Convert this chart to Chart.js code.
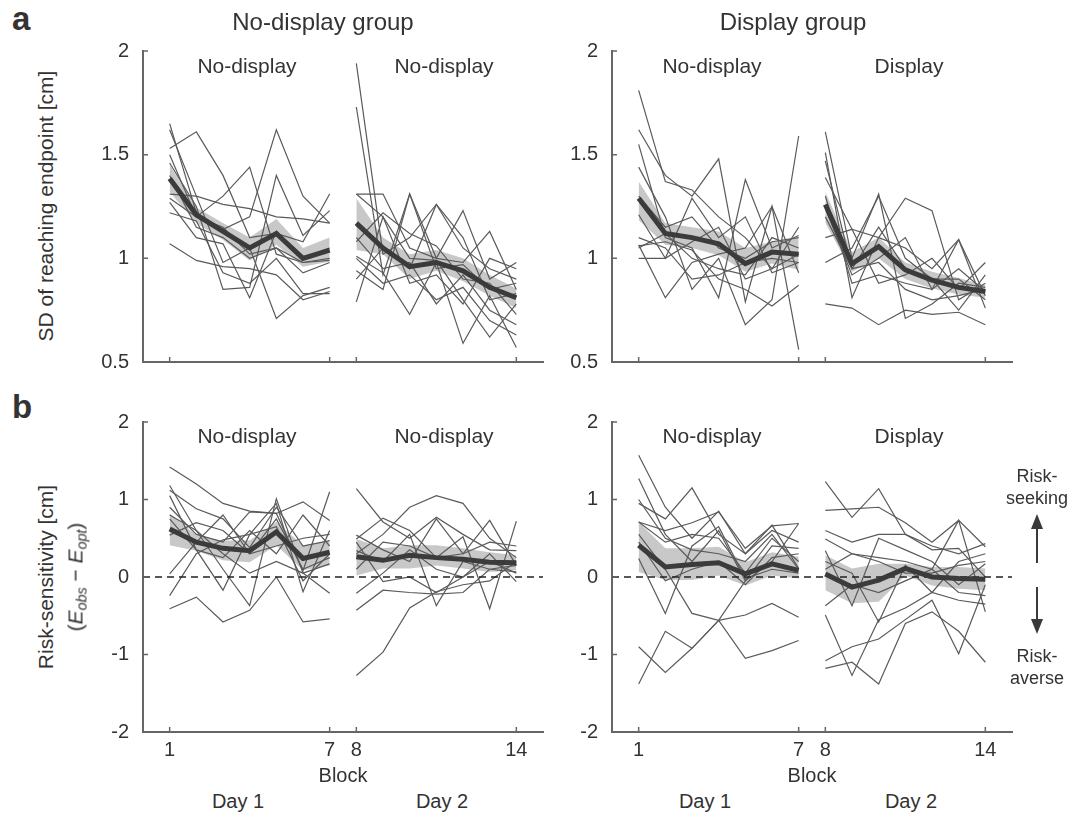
<!DOCTYPE html>
<html>
<head>
<meta charset="utf-8">
<script src="https://cdn.jsdelivr.net/npm/chart.js@4.4.1/dist/chart.umd.min.js"></script>
<style>
  body { margin: 0; background: #fff; }
  #fig { position: relative; width: 1084px; height: 813px; font-family: 'Liberation Sans', Arial, sans-serif; color: #333; overflow: hidden; }
  #fig canvas { position: absolute; }
  .t { position: absolute; transform: translate(-50%, -50%); line-height: 1; white-space: nowrap; }
  .rot { transform: translate(-50%, -50%) rotate(-90deg); }
  .big { font-size: 24px; }
  .ttl { font-size: 21px; }
  .lab { font-size: 21px; }
  .xl { font-size: 20px; }
  .side { font-size: 18px; text-align: center; line-height: 1.2; }
  .pl { position: absolute; font-weight: bold; font-size: 33px; line-height: 33px; color: #333; }
  sub { font-size: 0.68em; vertical-align: -0.28em; line-height: 0; }
</style>
</head>
<body>
<div id="fig">
  <canvas id="sdNoDisp" width="470" height="363" style="left:83px;top:25px"></canvas>
  <canvas id="sdDisp" width="470" height="363" style="left:552px;top:25px"></canvas>
  <canvas id="riskNoDisp" width="470" height="371" style="left:83px;top:396px"></canvas>
  <canvas id="riskDisp" width="470" height="371" style="left:552px;top:396px"></canvas>

  <div class="pl" style="left:12px;top:2px">a</div>
  <div class="pl" style="left:12px;top:390px">b</div>

  <div class="t big" style="left:323px;top:22px">No-display group</div>
  <div class="t big" style="left:793px;top:22px">Display group</div>

  <div class="t ttl" style="left:247px;top:65px">No-display</div>
  <div class="t ttl" style="left:444px;top:65px">No-display</div>
  <div class="t ttl" style="left:712px;top:65px">No-display</div>
  <div class="t ttl" style="left:909px;top:65px">Display</div>
  <div class="t ttl" style="left:247px;top:435px">No-display</div>
  <div class="t ttl" style="left:444px;top:435px">No-display</div>
  <div class="t ttl" style="left:712px;top:435px">No-display</div>
  <div class="t ttl" style="left:909px;top:435px">Display</div>

  <div class="t lab rot" style="left:45px;top:206px">SD of reaching endpoint [cm]</div>
  <div class="t lab rot" style="left:45px;top:577px">Risk-sensitivity [cm]</div>
  <div class="t lab rot" style="left:75px;top:577px">(<i>E</i><sub><i>obs</i></sub> &minus; <i>E</i><sub><i>opt</i></sub>)</div>

  <div class="t xl" style="left:343px;top:775px">Block</div>
  <div class="t xl" style="left:812px;top:775px">Block</div>
  <div class="t xl" style="left:238px;top:801px">Day 1</div>
  <div class="t xl" style="left:442px;top:801px">Day 2</div>
  <div class="t xl" style="left:705px;top:801px">Day 1</div>
  <div class="t xl" style="left:911px;top:801px">Day 2</div>

  <div class="t side" style="left:1037px;top:488px">Risk-<br>seeking</div>
  <div class="t side" style="left:1037px;top:668px">Risk-<br>averse</div>
  <svg style="position:absolute;left:0;top:0" width="1084" height="813">
    <g stroke="#3a3a3a" stroke-width="2" fill="#3a3a3a">
      <line x1="1037" y1="563" x2="1037" y2="527"/>
      <polygon points="1037,514 1031,529 1043,529" stroke="none"/>
      <line x1="1037" y1="587" x2="1037" y2="621"/>
      <polygon points="1037,634 1031,619 1043,619" stroke="none"/>
    </g>
  </svg>
</div>

<script>
// x positions and tick values
const blocksDay1 = [1, 2, 3, 4, 5, 6, 7];
const blocksDay2 = [8, 9, 10, 11, 12, 13, 14];
const xTickBlocks = [1, 7, 8, 14];
const sdTicks = [0.5, 1, 1.5, 2];
const riskTicks = [-2, -1, 0, 1, 2];
const zeroLineX = [0, 15];

// a: SD of reaching endpoint, no-display group
const sdNoDispDay1Mean = [1.385, 1.21, 1.13, 1.05, 1.12, 1.00, 1.04];
const sdNoDispDay1Hi = [1.45, 1.245, 1.17, 1.10, 1.19, 1.05, 1.10];
const sdNoDispDay1Lo = [1.32, 1.17, 1.09, 0.99, 1.065, 0.96, 0.985];
const sdNoDispDay1Subjects = [
  [1.65, 1.22, 1.14, 1.20, 1.62, 1.30, 1.17],
  [1.62, 1.30, 0.98, 1.05, 0.71, 0.82, 0.86],
  [1.53, 1.61, 1.40, 1.10, 1.12, 1.08, 1.31],
  [1.50, 1.20, 1.30, 1.44, 1.02, 0.98, 0.99],
  [1.46, 1.25, 0.85, 0.86, 1.40, 1.11, 1.23],
  [1.31, 1.30, 1.26, 1.24, 1.20, 1.19, 1.17],
  [1.29, 1.20, 1.15, 1.02, 1.05, 0.98, 1.00],
  [1.27, 1.10, 1.07, 0.81, 1.13, 1.00, 1.05],
  [1.22, 1.18, 0.93, 0.88, 1.00, 0.83, 0.83],
  [1.07, 0.99, 0.96, 0.95, 0.92, 0.80, 0.84],
  [1.40, 1.15, 1.10, 1.00, 1.05, 0.93, 0.98]
];
const sdNoDispDay2Mean = [1.17, 1.05, 0.96, 0.98, 0.94, 0.86, 0.81];
const sdNoDispDay2Hi = [1.29, 1.10, 1.02, 1.04, 1.00, 0.92, 0.855];
const sdNoDispDay2Lo = [1.04, 1.02, 0.90, 0.94, 0.89, 0.82, 0.76];
const sdNoDispDay2Subjects = [
  [1.94, 1.02, 1.10, 1.26, 1.05, 0.95, 0.90],
  [1.73, 0.92, 1.31, 1.00, 1.23, 0.90, 0.98],
  [1.31, 1.31, 1.05, 1.00, 0.98, 1.13, 0.85],
  [1.31, 1.20, 1.00, 0.99, 0.80, 0.62, 0.78],
  [1.08, 1.22, 1.12, 1.06, 0.90, 0.88, 0.73],
  [1.01, 0.93, 0.73, 0.98, 0.59, 0.82, 0.57],
  [0.94, 0.85, 1.31, 0.95, 0.97, 0.85, 0.88],
  [0.90, 1.05, 0.95, 1.26, 1.10, 0.80, 0.83],
  [0.79, 1.20, 0.88, 0.92, 0.78, 1.00, 0.95],
  [1.10, 0.95, 0.98, 0.78, 0.92, 0.75, 0.68],
  [1.00, 0.88, 0.92, 0.80, 0.86, 0.70, 0.63]
];

// a: SD of reaching endpoint, display group
const sdDispDay1Mean = [1.29, 1.12, 1.10, 1.07, 0.975, 1.03, 1.02];
const sdDispDay1Hi = [1.37, 1.17, 1.15, 1.13, 1.05, 1.08, 1.10];
const sdDispDay1Lo = [1.185, 1.065, 1.05, 1.015, 0.935, 0.975, 0.945];
const sdDispDay1Subjects = [
  [1.81, 1.37, 1.33, 1.20, 1.10, 0.95, 1.15],
  [1.62, 1.40, 1.30, 1.48, 0.79, 1.25, 0.56],
  [1.55, 1.10, 1.05, 0.81, 1.38, 1.05, 1.11],
  [1.44, 1.20, 0.85, 1.00, 0.68, 0.80, 1.59],
  [1.21, 1.00, 1.29, 1.10, 1.20, 0.93, 0.98],
  [1.065, 0.81, 0.98, 1.02, 1.05, 1.25, 0.93],
  [1.06, 1.08, 1.04, 0.90, 0.85, 0.77, 0.87],
  [1.05, 1.12, 1.00, 0.95, 0.92, 1.10, 1.05],
  [1.00, 1.00, 1.08, 1.15, 0.90, 0.95, 1.02],
  [1.30, 1.15, 1.20, 1.05, 1.00, 1.08, 1.10],
  [1.10, 1.05, 0.90, 0.92, 0.98, 1.00, 0.98]
];
const sdDispDay2Mean = [1.26, 0.975, 1.056, 0.944, 0.895, 0.86, 0.84];
const sdDispDay2Hi = [1.32, 1.03, 1.10, 0.98, 0.935, 0.905, 0.87];
const sdDispDay2Lo = [1.17, 0.935, 1.00, 0.90, 0.855, 0.825, 0.81];
const sdDispDay2Subjects = [
  [1.61, 1.00, 1.31, 0.71, 0.78, 0.88, 0.86],
  [1.51, 0.81, 1.10, 1.05, 0.95, 1.09, 0.82],
  [1.47, 0.95, 1.15, 0.95, 0.90, 0.75, 0.92],
  [1.39, 1.14, 1.10, 1.29, 1.23, 0.80, 0.88],
  [1.24, 0.92, 1.00, 1.10, 0.85, 1.09, 0.76],
  [1.10, 1.14, 0.88, 0.92, 1.00, 0.85, 0.98],
  [0.98, 1.05, 1.30, 1.00, 0.90, 0.90, 0.80],
  [0.78, 0.76, 0.68, 0.75, 0.73, 0.74, 0.68],
  [1.30, 0.88, 0.92, 0.88, 0.85, 0.95, 0.84],
  [1.20, 0.95, 0.98, 0.85, 0.80, 0.82, 0.85]
];

// b: risk-sensitivity, no-display group
const riskNoDispDay1Mean = [0.62, 0.45, 0.37, 0.34, 0.58, 0.24, 0.32];
const riskNoDispDay1Hi = [0.82, 0.54, 0.47, 0.47, 0.71, 0.41, 0.47];
const riskNoDispDay1Lo = [0.41, 0.34, 0.215, 0.19, 0.41, 0.086, 0.15];
const riskNoDispDay1Subjects = [
  [1.42, 1.20, 0.95, 0.85, 0.82, 0.97, 0.73],
  [1.18, 0.60, 0.10, -0.37, 1.01, 0.05, 0.17],
  [1.12, 0.88, 0.75, 0.38, 0.90, 0.40, 0.47],
  [1.05, 0.35, -0.17, 0.55, 0.95, -0.19, 0.60],
  [0.90, 0.55, 0.45, 0.84, 0.82, 0.08, 1.10],
  [0.54, 0.70, 0.60, 0.30, 0.40, 0.50, 0.55],
  [0.04, 0.45, 0.80, 0.30, 0.75, 0.10, 0.25],
  [-0.24, 0.30, 0.48, 0.55, 0.65, -0.05, 0.30],
  [-0.41, -0.26, -0.58, -0.43, 0.00, -0.58, -0.54],
  [0.75, 0.35, 0.25, 0.60, 0.30, 0.80, 0.40],
  [0.80, 0.60, 0.30, 0.05, 0.20, 0.05, -0.21]
];
const riskNoDispDay2Mean = [0.26, 0.215, 0.28, 0.25, 0.23, 0.19, 0.185];
const riskNoDispDay2Hi = [0.49, 0.37, 0.41, 0.41, 0.37, 0.32, 0.28];
const riskNoDispDay2Lo = [0.02, 0.11, 0.11, 0.15, 0.11, 0.065, 0.086];
const riskNoDispDay2Subjects = [
  [1.14, 0.71, 0.50, 0.77, 0.55, 0.35, 0.34],
  [0.30, 0.55, 0.90, 1.05, 0.95, 0.50, 0.25],
  [0.54, 0.35, 0.20, 0.75, 0.30, 0.73, 0.15],
  [0.49, 0.76, 0.60, 0.25, 0.52, -0.41, 0.72],
  [0.34, 0.20, 0.55, -0.37, 0.20, 0.10, 0.065],
  [-0.21, 0.05, 0.35, 0.10, 0.00, 0.30, -0.06],
  [-0.43, -0.17, -0.20, -0.22, -0.20, 0.10, 0.15],
  [-1.27, -0.97, -0.40, -0.19, -0.10, -0.05, 0.20],
  [0.45, -0.06, 0.00, -0.20, 0.00, 0.20, 0.05],
  [0.10, 0.45, 0.40, 0.25, 0.30, 0.45, 0.40]
];

// b: risk-sensitivity, display group
const riskDispDay1Mean = [0.41, 0.13, 0.16, 0.185, 0.04, 0.17, 0.086];
const riskDispDay1Hi = [0.71, 0.37, 0.37, 0.39, 0.19, 0.32, 0.26];
const riskDispDay1Lo = [0.065, -0.04, -0.04, 0.02, -0.11, 0.02, -0.02];
const riskDispDay1Subjects = [
  [1.57, 0.90, 0.50, 0.85, 0.30, 0.60, 0.45],
  [1.27, 0.55, 0.20, 0.60, -0.05, 0.40, 0.37],
  [0.95, 0.75, 1.15, 0.55, 0.30, 0.67, 0.11],
  [0.71, 0.60, 0.70, 0.84, 0.37, 0.66, 0.69],
  [0.71, 0.45, 0.55, 0.50, 0.05, 0.50, 0.20],
  [0.24, -0.47, 0.40, 0.65, -0.02, 0.10, 0.05],
  [0.55, 0.10, -0.47, -0.56, -0.49, -0.34, -0.52],
  [-0.90, -1.23, -0.92, -0.56, -0.05, 0.20, 0.69],
  [-1.38, -0.70, -0.92, -0.56, -1.05, -0.95, -0.82],
  [0.45, -0.05, 0.10, 0.20, -0.10, 0.25, 0.30],
  [1.00, 0.50, 0.35, 0.30, 0.20, 0.55, 0.10]
];
const riskDispDay2Mean = [0.04, -0.13, -0.04, 0.11, 0.00, -0.02, -0.03];
const riskDispDay2Hi = [0.28, 0.11, 0.17, 0.17, 0.13, 0.13, 0.11];
const riskDispDay2Lo = [-0.17, -0.34, -0.32, 0.02, -0.11, -0.15, -0.17];
const riskDispDay2Subjects = [
  [1.23, 0.77, 1.14, 0.55, 0.35, 0.37, 0.00],
  [0.86, 0.88, 0.90, 0.70, 0.45, 0.73, 0.39],
  [0.60, 0.45, 0.55, 0.55, 0.40, 0.30, 0.43],
  [0.49, 0.30, 0.25, 0.20, 0.10, 0.73, -0.45],
  [0.34, -0.37, 0.50, 0.35, 0.20, -0.10, 0.17],
  [0.20, 0.05, -0.58, 0.15, -0.20, 0.20, 0.30],
  [-0.37, -0.10, -0.20, -0.05, 0.10, -0.20, -0.24],
  [-0.49, -1.27, -0.55, -0.40, -0.20, -0.30, -0.35],
  [-1.08, -0.90, -0.80, -0.55, -0.30, -0.99, -0.10],
  [-1.18, -1.10, -1.38, -0.60, -0.45, -0.70, -1.10],
  [0.10, 0.30, 0.20, 0.05, 0.05, 0.15, 0.20]
];

const fontFamily = "'Liberation Sans', Arial, sans-serif";
const textColor = '#333';
const axisColor = '#666';
const subjColor = '#5a5a5a';
const meanColor = '#3b3b3b';
const bandColor = '#c8c8c8';

// MATLAB style ticks pointing into the plot
const inwardTicks = {
  id: 'inwardTicks',
  afterDraw(chart) {
    const { ctx, chartArea, scales: { x, y } } = chart;
    ctx.save();
    ctx.strokeStyle = axisColor;
    ctx.lineWidth = 1.5;
    ctx.beginPath();
    x.ticks.forEach(t => {
      const px = x.getPixelForValue(t.value);
      ctx.moveTo(px, chartArea.bottom);
      ctx.lineTo(px, chartArea.bottom - 5);
    });
    y.ticks.forEach(t => {
      const py = y.getPixelForValue(t.value);
      ctx.moveTo(chartArea.left, py);
      ctx.lineTo(chartArea.left + 5, py);
    });
    ctx.stroke();
    ctx.restore();
  }
};

function segment(blocks, subjects, mean, hi, lo) {
  const pts = vals => blocks.map((b, i) => ({ x: b, y: vals[i] }));
  const sets = [];
  sets.push({ data: pts(lo), borderWidth: 0, borderColor: 'transparent', fill: false, order: 3 });
  sets.push({ data: pts(hi), borderWidth: 0, borderColor: 'transparent', fill: '-1', backgroundColor: bandColor, order: 3 });
  subjects.forEach(s => {
    sets.push({ data: pts(s), borderColor: subjColor, borderWidth: 1.2, order: 2 });
  });
  sets.push({ data: pts(mean), borderColor: meanColor, borderWidth: 5, order: 0 });
  return sets;
}

function makePanel(id, day1, day2, yTicks, bottom) {
  let datasets = segment(blocksDay1, ...day1).concat(segment(blocksDay2, ...day2));
  if (bottom) {
    datasets.push({
      data: zeroLineX.map(x => ({ x: x, y: 0 })),
      borderColor: '#222', borderWidth: 1.5, borderDash: [7, 5], order: 1
    });
  }
  const tickFont = { family: fontFamily, size: 20, lineHeight: 1.2 };
  new Chart(document.getElementById(id), {
    type: 'line',
    data: { datasets: datasets },
    options: {
      responsive: false,
      animation: false,
      events: [],
      layout: { padding: { top: 0, right: 10, left: 0, bottom: 0 } },
      plugins: { legend: { display: false }, tooltip: { enabled: false } },
      elements: { point: { radius: 0 }, line: { tension: 0 } },
      scales: {
        x: {
          type: 'linear', min: 0, max: 15,
          afterBuildTicks: s => { s.ticks = xTickBlocks.map(v => ({ value: v })); },
          afterFit: s => { s.height = bottom ? 35 : 5; },
          grid: { display: false, drawTicks: false },
          border: { color: axisColor, width: 2 },
          ticks: { display: bottom, color: textColor, font: tickFont, padding: 6, maxRotation: 0, autoSkip: false, callback: v => String(v) }
        },
        y: {
          type: 'linear', min: yTicks[0], max: yTicks[yTicks.length - 1],
          afterBuildTicks: s => { s.ticks = yTicks.map(v => ({ value: v })); },
          afterFit: s => { s.width = 60; },
          grid: { display: false, drawTicks: false },
          border: { color: axisColor, width: 2 },
          ticks: { color: textColor, font: tickFont, padding: 14, callback: v => String(v) }
        }
      }
    },
    plugins: [inwardTicks]
  });
}

makePanel('sdNoDisp',
  [sdNoDispDay1Subjects, sdNoDispDay1Mean, sdNoDispDay1Hi, sdNoDispDay1Lo],
  [sdNoDispDay2Subjects, sdNoDispDay2Mean, sdNoDispDay2Hi, sdNoDispDay2Lo],
  sdTicks, false);
makePanel('sdDisp',
  [sdDispDay1Subjects, sdDispDay1Mean, sdDispDay1Hi, sdDispDay1Lo],
  [sdDispDay2Subjects, sdDispDay2Mean, sdDispDay2Hi, sdDispDay2Lo],
  sdTicks, false);
makePanel('riskNoDisp',
  [riskNoDispDay1Subjects, riskNoDispDay1Mean, riskNoDispDay1Hi, riskNoDispDay1Lo],
  [riskNoDispDay2Subjects, riskNoDispDay2Mean, riskNoDispDay2Hi, riskNoDispDay2Lo],
  riskTicks, true);
makePanel('riskDisp',
  [riskDispDay1Subjects, riskDispDay1Mean, riskDispDay1Hi, riskDispDay1Lo],
  [riskDispDay2Subjects, riskDispDay2Mean, riskDispDay2Hi, riskDispDay2Lo],
  riskTicks, true);
</script>
</body>
</html>
